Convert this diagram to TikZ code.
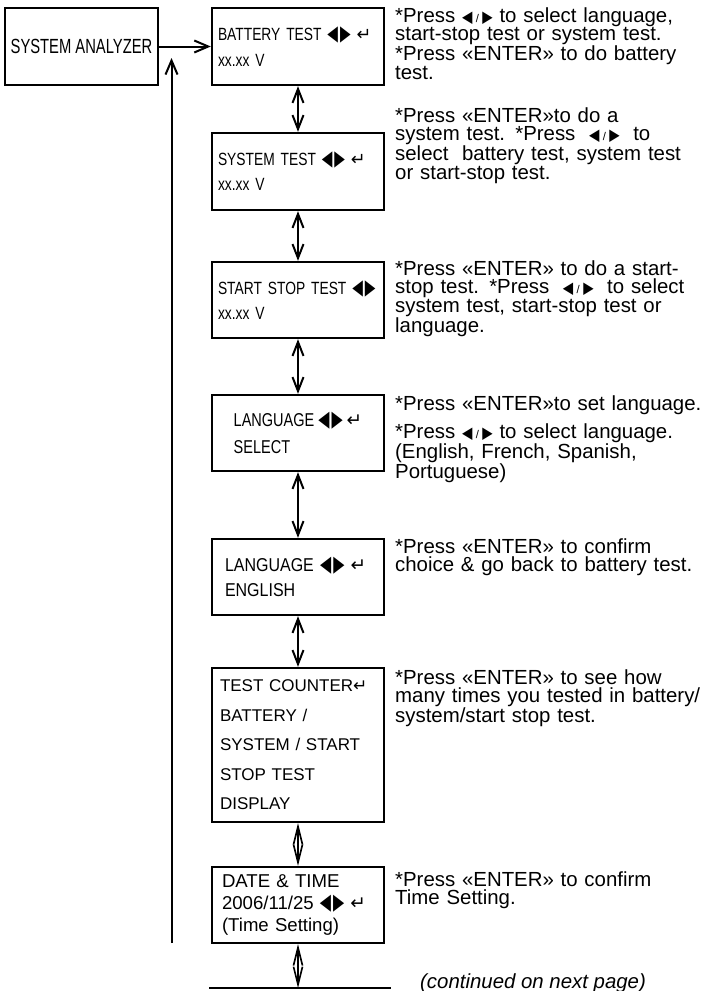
\documentclass[tikz,border=0pt]{standalone}
\usepackage{fontspec}
\setmainfont{Liberation Sans}
\newfontfamily\narrowsf[FakeStretch=0.72]{Liberation Sans}
\newfontfamily\condsf[FakeStretch=0.78]{Liberation Sans}
\newfontfamily\semisf[FakeStretch=0.86]{Liberation Sans}
\newfontfamily\symf{DejaVu Sans}
\usetikzlibrary{arrows.meta,positioning}
\newcommand\kL{\scalebox{0.78}[1.2]{\symf ◀}}
\newcommand\kR{\scalebox{0.78}[1.2]{\symf ▶}}
\newcommand\kE{{\symf ↵}}
\newcommand\kLR{\scalebox{0.66}[0.8]{\symf ◀}\,\scalebox{0.55}{/}\,\scalebox{0.66}[0.8]{\symf ▶}}
\tikzset{
  lcd/.style={rectangle,draw,line width=2.4pt,minimum width=172pt,align=left,inner xsep=0pt,inner ysep=0pt},
  dsc/.style={anchor=base west,align=left,text width=310pt,inner sep=0pt,font=\fontsize{20.4}{18.5}\selectfont},
  lnk/.style={line width=2pt,{Straight Barb[length=14pt,width=11pt]}-{Straight Barb[length=14pt,width=11pt]}},
  lnkn/.style={line width=1.6pt,{Straight Barb[length=18pt,width=9pt]}-{Straight Barb[length=18pt,width=9pt]}},
  ret/.style={line width=2pt,-{Straight Barb[length=14pt,width=12pt]}},
}
\begin{document}
\begin{tikzpicture}[x=1pt,y=-1pt]
\useasboundingbox (0,0) rectangle (706,991);
% -screens-
\node[lcd,minimum width=153pt,minimum height=77pt,align=center,font=\narrowsf\fontsize{20.5}{22}\selectfont] (sa) at (81.5,46.5) {SYSTEM ANALYZER};
\node[lcd,minimum height=77pt,text width=160pt,font=\condsf\fontsize{17.7}{26}\selectfont] (b1) at (298,46.5) {BATTERY TEST \kL\kern2pt\kR\ \kE\\xx.xx V};
\node[lcd,minimum height=77pt,text width=160pt,font=\condsf\fontsize{17.7}{25}\selectfont] (b2) at (298,171.5) {SYSTEM TEST \kL\kern2pt\kR\ \kE\\xx.xx V};
\node[lcd,minimum height=76pt,text width=160pt,font=\condsf\fontsize{17.7}{25}\selectfont] (b3) at (298,300) {START STOP TEST \kL\kern2pt\kR\\xx.xx V};
\node[lcd,minimum height=76pt,font=\condsf\fontsize{18.6}{27}\selectfont] (b4) at (298,433) {LANGUAGE \kL\kern2pt\kR\ \kE\\SELECT};
\node[lcd,minimum height=76pt,text width=146pt,font=\semisf\fontsize{18.6}{25}\selectfont] (b5) at (298,577) {LANGUAGE \kL\kern2pt\kR\ \kE\\ENGLISH};
\node[lcd,minimum height=154pt,text width=156pt,font=\fontsize{17}{29.5}\selectfont] (b6) at (298,745) {TEST COUNTER\kE\\BATTERY /\\SYSTEM / START\\STOP TEST\\DISPLAY};
\node[lcd,minimum height=76pt,text width=152pt,font=\fontsize{18.6}{22}\selectfont] (b7) at (298,905) {DATE \& TIME\\2006/11/25 \kL\kern2pt\kR\ \kE\\(Time Setting)};
% -links-
\draw[ret] (sa.east) -- (b1.west);
\coordinate (rb) at (171.5,943);
\coordinate (rt) at (171.5,58);
\draw[ret] (rb) -- (rt);
\foreach \a/\b in {b1/b2,b2/b3,b3/b4,b4/b5,b5/b6}{\draw[lnk] (\a.south) -- (\b.north);}
\draw[lnkn] (b6.south) -- (b7.north);
\coordinate (bl) at (209,988);
\coordinate (br) at (391,988);
\draw[line width=2.4pt] (bl) -- (br);
\draw[lnkn] (b7.south) -- (b7.south |- bl);
% -notes-
\node[dsc] (n1) at (395,22) {*Press \kLR\ to select language,\\start-stop test or system test.\\{}*Press «ENTER» to do battery\\test.};
\node[dsc] (n2) at (395,122) {*Press «ENTER»to do a\\system test. *Press \ \kLR\ \ to\\select \ battery test, system test\\or start-stop test.};
\node[dsc] (n3) at (395,275) {*Press «ENTER» to do a start-\\stop test. *Press \ \kLR\ \ to select\\system test, start-stop test or\\language.};
\node[dsc] (n4) at (395,410) {*Press «ENTER»to set language.\\[8pt]*Press \kLR\ to select language.\\(English, French, Spanish,\\Portuguese)};
\node[dsc] (n5) at (395,553) {*Press «ENTER» to confirm\\choice \& go back to battery test.};
\node[dsc] (n6) at (395,684) {*Press «ENTER» to see how\\many times you tested in battery/\\system/start stop test.};
\node[dsc] (n7) at (395,886) {*Press «ENTER» to confirm\\Time Setting.};
\node[anchor=base west,inner sep=0pt,font=\itshape\fontsize{20.4}{19}\selectfont] (cont) at (420,988) {(continued on next page)};
\end{tikzpicture}
\end{document}
